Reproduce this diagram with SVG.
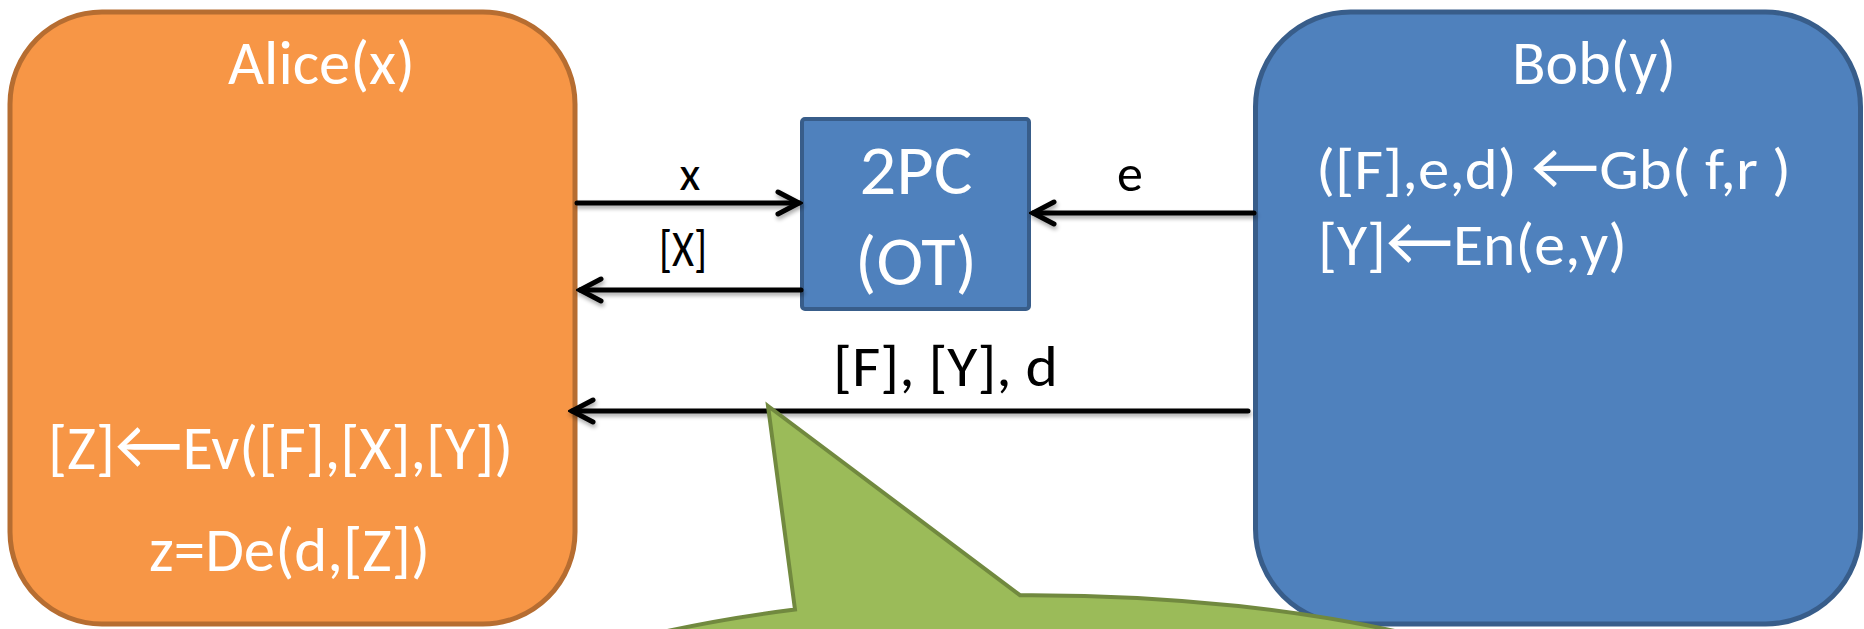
<svg xmlns="http://www.w3.org/2000/svg" width="1864" height="629" viewBox="0 0 1864 629">
  <style>
    .party-a { fill: #F79646; stroke: #B66D31; stroke-width: 5; }
    .party-b { fill: #4F81BD; stroke: #385D8A; stroke-width: 5; }
    .proto { fill: #4F81BD; stroke: #385D8A; stroke-width: 4; }
    .wt { fill: #FFFFFF; font-family: Carlito, Calibri, Lato, "Open Sans", sans-serif; }
    .bk { fill: #000000; font-family: Carlito, Calibri, Lato, "Open Sans", sans-serif; }
    .arr { font-size: 1.2em; }
    .wire { stroke: #000000; stroke-width: 5; fill: none; stroke-linecap: round; marker-end: url(#chev); }
    .bubble { fill: #9BBB59; stroke: #71893F; stroke-width: 4; stroke-linejoin: miter; }
  </style>
  <defs>
    <marker id="chev" markerUnits="userSpaceOnUse" viewBox="-28 -16 32 32" refX="0" refY="0" markerWidth="32" markerHeight="32" orient="auto">
      <path d="M -21 -11 L 0 0 L -21 11" fill="none" stroke="#000000" stroke-width="5" stroke-linecap="round" stroke-linejoin="miter"/>
    </marker>
    <filter id="soft" x="-5%" y="-100%" width="110%" height="400%">
      <feGaussianBlur in="SourceAlpha" stdDeviation="2"/>
      <feOffset dx="1" dy="3" result="b"/>
      <feComponentTransfer><feFuncA type="linear" slope="0.35"/></feComponentTransfer>
      <feMerge><feMergeNode/><feMergeNode in="SourceGraphic"/></feMerge>
    </filter>
  </defs>

  <g id="alice">
    <rect class="party-a" x="10" y="12" width="565" height="612" rx="92" ry="92"/>
    <text class="wt" x="321.5" y="84" font-size="62" text-anchor="middle" textLength="187" lengthAdjust="spacingAndGlyphs">Alice(x)</text>
    <text class="wt" x="48" y="469" font-size="61" textLength="465" lengthAdjust="spacingAndGlyphs">[Z]<tspan class="arr">←</tspan>Ev([F],[X],[Y])</text>
    <text class="wt" x="149" y="571" font-size="61" textLength="281" lengthAdjust="spacingAndGlyphs">z=De(d,[Z])</text>
  </g>

  <g id="bob">
    <rect class="party-b" x="1255.5" y="12" width="605" height="612" rx="95" ry="95"/>
    <text class="wt" x="1594" y="84" font-size="62" text-anchor="middle" textLength="164" lengthAdjust="spacingAndGlyphs">Bob(y)</text>
    <text class="wt" x="1316" y="189" font-size="57" textLength="475" lengthAdjust="spacingAndGlyphs">([F],e,d) <tspan class="arr">←</tspan>Gb( f,r )</text>
    <text class="wt" x="1318" y="265" font-size="60" textLength="309" lengthAdjust="spacingAndGlyphs">[Y]<tspan class="arr">←</tspan>En(e,y)</text>
  </g>

  <g id="ot">
    <rect class="proto" x="802" y="119" width="227" height="190" rx="3" ry="3"/>
    <text class="wt" x="916" y="194" font-size="70" text-anchor="middle" textLength="113" lengthAdjust="spacingAndGlyphs">2PC</text>
    <text class="wt" x="916" y="285" font-size="70" text-anchor="middle" textLength="122" lengthAdjust="spacingAndGlyphs">(OT)</text>
  </g>

  <g id="connectors">
    <g filter="url(#soft)">
      <path class="wire" d="M 577 203 L 799 203"/>
      <path class="wire" d="M 801 290 L 580 290"/>
      <path class="wire" d="M 1254 213 L 1033 213"/>
      <path class="wire" d="M 1248 411 L 572 411"/>
    </g>
    <text class="bk" x="690" y="190" font-size="48" text-anchor="middle">x</text>
    <text class="bk" x="683" y="266" font-size="52" text-anchor="middle" textLength="48" lengthAdjust="spacingAndGlyphs">[X]</text>
    <text class="bk" x="1130" y="191" font-size="52" text-anchor="middle">e</text>
    <text class="bk" x="833" y="386" font-size="58" textLength="225" lengthAdjust="spacingAndGlyphs">[F], [Y], d</text>
  </g>

  <g id="callout">
    <path class="bubble" d="M 768 406 L 1020 595.2 A 650 210 0 0 1 1433 640 L 629 640 A 650 210 0 0 1 795 609.5 Z"/>
  </g>
</svg>
